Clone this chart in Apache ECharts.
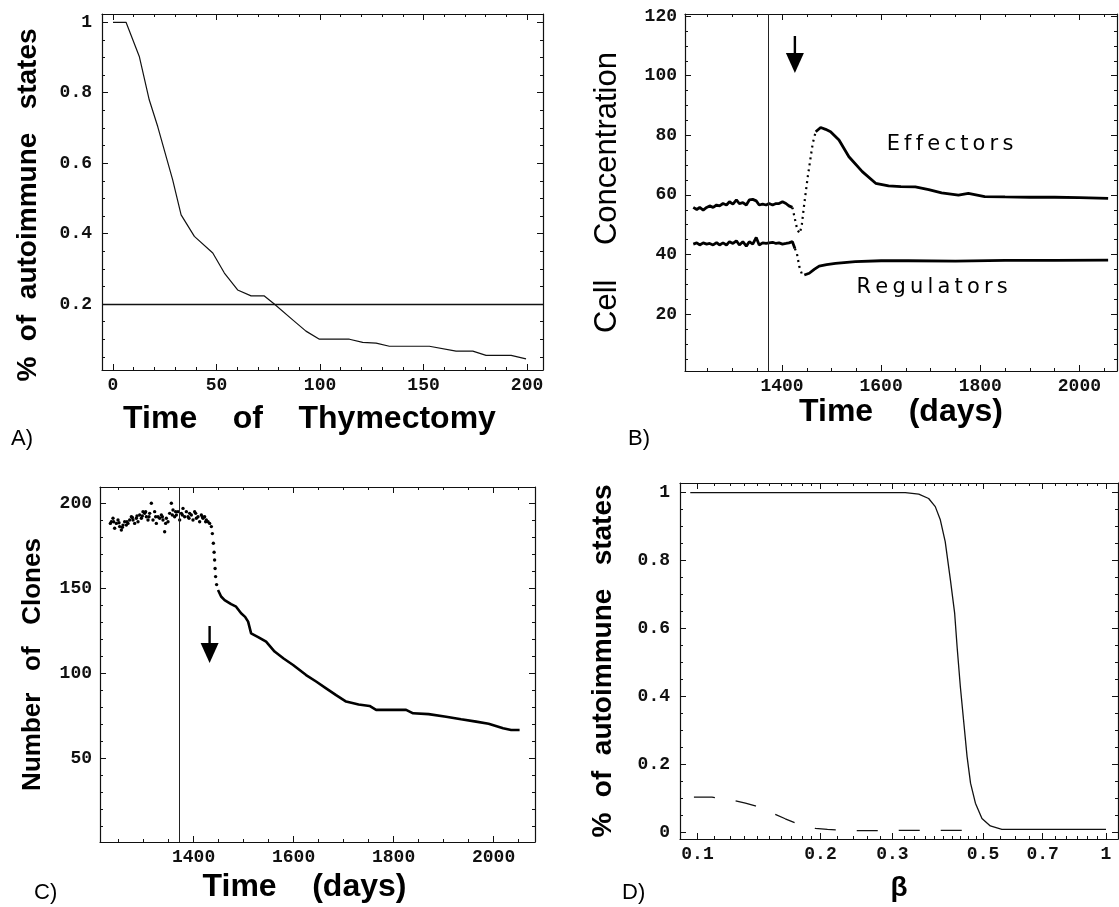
<!DOCTYPE html>
<html><head><meta charset="utf-8">
<script src="https://cdn.jsdelivr.net/npm/echarts@6/dist/echarts.min.js"></script>
<style>html,body{margin:0;padding:0;background:#fff}#c{width:1119px;height:907px}</style>
</head><body><div id="c"></div>
<script>
// ---------- Panel A : % of autoimmune states vs time of thymectomy ----------
const A_time = [0, 6.3, 12.7, 17.5, 21.6, 25.6, 28.8, 32.9, 39.3, 48.2, 53.8, 60.2, 66.7, 73.1, 77.9, 86.8, 93.2, 99.7, 114.2, 120.6, 127.1, 133.5, 152.8, 165.7, 173.8, 180.2, 192.3, 199.5];
const A_frac = [1, 1, 0.903, 0.78, 0.704, 0.62, 0.553, 0.453, 0.392, 0.345, 0.288, 0.24, 0.223, 0.223, 0.2, 0.155, 0.123, 0.1, 0.1, 0.091, 0.089, 0.08, 0.08, 0.066, 0.066, 0.054, 0.054, 0.044];
const A_threshold = 0.2;
const A_xTicks = [0, 50, 100, 150, 200];
const A_yTicks = [0.2, 0.4, 0.6, 0.8, 1];

// ---------- Panel B : cell concentration ----------
const B_effTime = [1221,1228,1234,1241,1248,1254,1261,1268,1274,1281,1288,1294,1301,1308,1314,1321,1328,1334,1341,1348,1354,1361,1368,1374,1381,1388,1394,1401,1408,1414,1421,1425,1431,1436,1440,1445,1452,1462,1468,1478,1488,1498,1515,1535,1562,1589,1615,1640,1669,1696,1722,1756,1776,1809,1850,1900,1950,2000,2058];
const B_effectors = [55.8,55.1,55.8,54.9,55.8,56.3,55.8,56.6,56.3,57.1,56.6,57.7,56.9,58.3,57.1,57.4,56.6,58.3,58.5,58.0,56.6,56.9,56.6,57.1,56.6,57.1,57.1,57.7,57.1,56.3,55.8,52.7,48.2,47.1,50.0,57.1,66.1,77.3,81.2,82.6,82.0,81.2,78.4,72.8,67.8,63.9,63.0,62.8,62.7,61.8,60.7,59.9,60.5,59.4,59.3,59.2,59.2,59.1,58.8];
const B_regTime = [1221,1228,1234,1241,1248,1254,1261,1268,1274,1281,1288,1294,1301,1308,1314,1321,1328,1334,1341,1348,1354,1361,1368,1374,1381,1388,1394,1401,1408,1414,1421,1426,1430,1435,1440,1445,1455,1465,1475,1490,1508,1548,1600,1655,1750,1850,1950,2058];
const B_regulators = [43.5,43.9,43.2,43.9,43.5,43.7,43.2,44.0,43.2,43.9,43.2,44.3,43.7,44.6,43.2,44.3,42.8,44.3,43.5,45.7,43.2,43.9,43.7,43.9,44.1,43.7,43.9,43.5,43.7,43.9,44.3,42.0,40.4,35.9,33.5,33.1,33.7,35.0,36.1,36.6,37.0,37.6,37.9,37.9,37.8,38.0,38.0,38.1];
const B_xTicks = [1400, 1600, 1800, 2000];
const B_yTicks = [20, 40, 60, 80, 100, 120];
const thymectomyDay = 1372;

// ---------- Panel C : number of clones ----------
const C_dotTime = [1233.5,1235.5,1238.8,1240.1,1242.1,1245.5,1248.8,1250.8,1252.1,1255.5,1257.5,1258.8,1262.1,1265.5,1266.8,1268.8,1272.1,1275.5,1277.5,1278.8,1282.1,1285.5,1286.8,1288.8,1292.1,1295.5,1297.5,1298.8,1302.1,1304.1,1305.5,1308.8,1310.8,1312.1,1315.5,1318.8,1322.1,1324.1,1325.5,1328.8,1332.1,1335.5,1337.5,1338.8,1342.1,1344.1,1345.5,1348.8,1352.1,1355.5,1357.5,1358.8,1362.1,1364.1,1365.5,1368.8,1372.1,1375.5,1377.5,1378.8,1382.1,1385.5,1388.8,1390.8,1392.1,1395.5,1398.8,1402.1,1404.1,1405.5,1408.8,1412.1,1415.5,1417.5,1418.8,1422.1,1424.1,1425.5,1428.8,1432.1,1435.5,1437.5,1439.5,1441,1442,1443,1444,1446];
const C_dotClones = [188.0,189.0,191.0,189.0,185.1,188.0,190.0,188.4,186.1,184.1,185.7,187.0,189.0,187.0,189.0,188.0,190.0,191.9,191.5,190.0,188.0,191.0,192.3,189.0,192.9,191.0,192.3,194.9,193.9,194.9,191.9,190.0,191.9,193.9,199.8,190.0,194.9,191.9,188.0,191.9,191.0,192.9,191.9,190.0,183.1,188.0,191.0,189.0,193.9,199.8,192.9,195.9,191.9,194.9,192.9,194.9,190.0,193.9,192.9,196.8,191.9,194.9,191.9,191.0,193.9,192.9,190.0,194.9,193.9,191.0,191.9,189.0,192.9,191.9,191.0,191.9,189.0,190.0,189.0,188.0,186.1,182.0,176.3,171.0,166.5,161.5,156.7,152.0];
const C_lineTime = [1448.8,1455,1462,1475,1485,1495,1503,1509,1515,1530,1545,1562,1580,1599,1625,1645,1665,1685,1705,1730,1752,1765,1790,1825,1839,1870,1905,1935,1965,1990,2019,2035,2052];
const C_lineClones = [148.8,145.0,142.9,140.5,139.0,135.1,133.0,130.2,123.3,121.0,118.4,112.6,108.5,104.7,98.8,95.0,91.0,87.0,83.2,81.5,80.6,78.3,78.3,78.3,76.3,75.8,74.3,72.8,71.4,70.2,67.5,66.5,66.5];
const C_xTicks = [1400, 1600, 1800, 2000];
const C_yTicks = [50, 100, 150, 200];

// ---------- Panel D : % of autoimmune states vs beta ----------
const D_betaSolid = [0.096,0.15,0.2,0.25,0.3,0.3226,0.348,0.368,0.382,0.393,0.404,0.416,0.426,0.432,0.44,0.448,0.457,0.466,0.479,0.497,0.521,0.556,0.7,1.0];
const D_fracSolid = [1,1,1,1,1,1,0.996,0.983,0.959,0.92,0.856,0.743,0.646,0.546,0.428,0.33,0.222,0.144,0.085,0.04,0.018,0.008,0.008,0.008];
const D_betaDashed = [0.098,0.1085,0.1237,0.131,0.1385,0.155,0.164,0.1735,0.1943,0.208,0.2215,0.25,0.283,0.322,0.365,0.414,0.47];
const D_fracDashed = [0.103,0.103,0.092,0.085,0.077,0.052,0.039,0.027,0.011,0.008,0.006,0.004,0.004,0.005,0.005,0.005,0.005];
const D_xTicks = [0.1, 0.2, 0.3, 0.5, 0.7, 1];
const D_yTicks = [0, 0.2, 0.4, 0.6, 0.8, 1];

// ---------- helpers ----------
function range(a, b, s) { const r = []; for (let v = a; v <= b + s / 1000; v += s) r.push(+v.toFixed(4)); return r; }
function zip(xs, ys) { return xs.map((x, i) => [x, ys[i]]); }
function part(xs, ys, lo, hi) { return zip(xs, ys).filter(p => p[0] >= lo && p[0] <= hi); }
const fmtNum = v => String(+(+v).toFixed(3));
const INK = '#111';
const tickFont = { fontFamily: 'Liberation Mono', fontWeight: 'bold', fontSize: 18, color: INK };

function axesFor(dim, gridIndex, o) {
  const isX = dim === 'x';
  const pos = isX ? ['bottom', 'top'] : ['left', 'right'];
  const base = { gridIndex, type: o.type || 'value', min: o.min, max: o.max, splitLine: { show: false }, silent: true };
  if (o.type === 'log') base.logBase = 10;
  const line = { show: true, onZero: false, lineStyle: { color: INK, width: 1.2 } };
  const tk = (len, vals) => ({ show: true, inside: true, length: len, customValues: vals, lineStyle: { color: INK, width: 1 } });
  return [
    Object.assign({}, base, {
      position: pos[0], axisLine: line, axisTick: tk(6, o.major),
      axisLabel: Object.assign({ show: true, customValues: o.labels || o.major, formatter: fmtNum, margin: o.margin }, tickFont),
      name: o.name, nameLocation: 'middle', nameGap: o.nameGap, nameRotate: isX ? 0 : 90, nameTextStyle: o.nameStyle
    }),
    Object.assign({}, base, { position: pos[0], axisLine: { show: false, onZero: false }, axisTick: tk(3, o.minor), axisLabel: { show: false } }),
    Object.assign({}, base, { position: pos[1], axisLine: line, axisTick: tk(6, o.major), axisLabel: { show: false } }),
    Object.assign({}, base, { position: pos[1], axisLine: { show: false, onZero: false }, axisTick: tk(3, o.minor), axisLabel: { show: false } })
  ];
}

const boldTitle = (size, pad) => ({ fontFamily: 'Liberation Sans', fontWeight: 'bold', fontSize: size, color: '#000', padding: pad || 0 });

const grids = [
  { left: 102, top: 14, width: 441, height: 356 },
  { left: 685, top: 14, width: 432, height: 357 },
  { left: 100, top: 487, width: 435, height: 355 },
  { left: 680, top: 483, width: 438, height: 356 }
];

const xAxes = [].concat(
  axesFor('x', 0, { min: -5.31, max: 207.7, major: A_xTicks, minor: range(0, 200, 10), margin: 6,
    name: 'Time    of    Thymectomy', nameGap: 33, nameStyle: boldTitle(32, [0, 26, 0, 0]) }),
  axesFor('x', 1, { min: 1204.3, max: 2075.9, major: B_xTicks, minor: range(1250, 2050, 50), margin: 6,
    name: 'Time    (days)', nameGap: 25, nameStyle: boldTitle(32) }),
  axesFor('x', 2, { min: 1212.8, max: 2082.8, major: C_xTicks, minor: range(1250, 2050, 50), margin: 6,
    name: 'Time    (days)', nameGap: 29, nameStyle: boldTitle(32, [0, 26, 0, 0]) }),
  axesFor('x', 3, { type: 'log', min: 0.0906, max: 1.07, major: D_xTicks,
    minor: [].concat(range(0.11, 0.19, 0.01), range(0.22, 0.48, 0.02), range(0.55, 0.95, 0.05)), margin: 6,
    name: 'β', nameGap: 35, nameStyle: boldTitle(28) })
);
const yAxes = [].concat(
  axesFor('y', 0, { min: 0.0126, max: 1.0236, major: A_yTicks, minor: range(0.05, 1, 0.05), margin: 10,
    name: '%  of  autoimmune   states', nameGap: 60, nameStyle: boldTitle(28, [0, 26, 0, 0]) }),
  axesFor('y', 1, { min: 0.9, max: 120.7, major: B_yTicks, minor: range(5, 120, 5), margin: 8,
    name: 'Cell    Concentration', nameGap: 62, nameStyle: { fontFamily: 'Liberation Sans', fontSize: 31, color: '#000' } }),
  axesFor('y', 2, { min: 0.6, max: 209.4, major: C_yTicks, minor: range(10, 200, 10), margin: 8,
    name: 'Number   of   Clones', nameGap: 54, nameStyle: boldTitle(26) }),
  axesFor('y', 3, { min: -0.0206, max: 1.0286, major: D_yTicks, minor: range(0, 1, 0.05), margin: 10,
    name: '%  of  autoimmune   states', nameGap: 63, nameStyle: boldTitle(28) })
);

const noSym = { symbol: 'none', silent: true };
const vline = (x) => ({ silent: true, symbol: ['none', 'none'], label: { show: false }, lineStyle: { color: '#222', width: 1, type: 'solid' }, data: [{ xAxis: x }] });

const series = [
  // A
  Object.assign({ type: 'line', xAxisIndex: 0, yAxisIndex: 0, data: zip(A_time, A_frac), lineStyle: { color: INK, width: 1.2 },
    markLine: { silent: true, symbol: ['none', 'none'], label: { show: false }, lineStyle: { color: INK, width: 1.4, type: 'solid' }, data: [{ yAxis: A_threshold }] } }, noSym),
  // B effectors
  Object.assign({ type: 'line', xAxisIndex: 4, yAxisIndex: 4, data: part(B_effTime, B_effectors, 0, 1421), lineStyle: { color: '#000', width: 2.8 },
    markLine: vline(thymectomyDay) }, noSym),
  Object.assign({ type: 'line', xAxisIndex: 4, yAxisIndex: 4, data: part(B_effTime, B_effectors, 1421, 1468), lineStyle: { color: '#000', width: 2.2, type: [2, 4] } }, noSym),
  Object.assign({ type: 'line', xAxisIndex: 4, yAxisIndex: 4, data: part(B_effTime, B_effectors, 1468, 9999), lineStyle: { color: '#000', width: 2.8 } }, noSym),
  // B regulators
  Object.assign({ type: 'line', xAxisIndex: 4, yAxisIndex: 4, data: part(B_regTime, B_regulators, 0, 1426), lineStyle: { color: '#000', width: 2.8 } }, noSym),
  Object.assign({ type: 'line', xAxisIndex: 4, yAxisIndex: 4, data: part(B_regTime, B_regulators, 1426, 1445), lineStyle: { color: '#000', width: 2.2, type: [2, 4] } }, noSym),
  Object.assign({ type: 'line', xAxisIndex: 4, yAxisIndex: 4, data: part(B_regTime, B_regulators, 1445, 9999), lineStyle: { color: '#000', width: 2.8 } }, noSym),
  // C
  { type: 'scatter', xAxisIndex: 8, yAxisIndex: 8, data: zip(C_dotTime, C_dotClones), symbol: 'circle', symbolSize: 3.4, itemStyle: { color: '#000', opacity: 1 }, silent: true,
    markLine: vline(thymectomyDay) },
  Object.assign({ type: 'line', xAxisIndex: 8, yAxisIndex: 8, data: zip(C_lineTime, C_lineClones), lineStyle: { color: '#000', width: 2.6 } }, noSym),
  // D
  Object.assign({ type: 'line', xAxisIndex: 12, yAxisIndex: 12, data: zip(D_betaSolid, D_fracSolid), lineStyle: { color: INK, width: 1.3 } }, noSym),
  Object.assign({ type: 'line', xAxisIndex: 12, yAxisIndex: 12, data: zip(D_betaDashed, D_fracDashed), lineStyle: { color: INK, width: 1.3, type: [21, 21] } }, noSym)
];

const chart = echarts.init(document.getElementById('c'), null, { renderer: 'canvas' });
chart.setOption({ animation: false, backgroundColor: '#fff', grid: grids, xAxis: xAxes, yAxis: yAxes, series });

// annotations anchored to data coordinates
const toPx = (g, x, y) => chart.convertToPixel({ xAxisIndex: g * 4, yAxisIndex: g * 4 }, [x, y]);
function arrow(tip) {
  const [x, y] = tip, head = 20, w = 18, shaft = 17;
  return { type: 'group', silent: true, children: [
    { type: 'line', shape: { x1: x, y1: y - head - shaft, x2: x, y2: y - head + 2 }, style: { stroke: '#000', lineWidth: 2.4 } },
    { type: 'polygon', shape: { points: [[x - w / 2, y - head], [x + w / 2, y - head], [x, y]] }, style: { fill: '#000' } }
  ] };
}
const spaced = s => s.split('').join('\u2009');
const annFont = { fontFamily: 'DejaVu Sans', fontSize: 21, fill: '#000' };
const eff = toPx(1, 1739, 77), reg = toPx(1, 1703, 29);
const panelLab = (t, x, y) => ({ type: 'text', x, y, silent: true, style: { text: t, fontFamily: 'Liberation Sans', fontSize: 22, fill: '#000', textVerticalAlign: 'top' } });
chart.setOption({ graphic: [
  arrow(toPx(1, 1426, 100.9)),
  arrow(toPx(2, 1432, 105.9)),
  { type: 'text', x: eff[0], y: eff[1], silent: true, style: Object.assign({ text: spaced('Effectors'), textAlign: 'center', textVerticalAlign: 'middle' }, annFont) },
  { type: 'text', x: reg[0], y: reg[1], silent: true, style: Object.assign({ text: spaced('Regulators'), textAlign: 'center', textVerticalAlign: 'middle' }, annFont) },
  panelLab('A)', 11, 428), panelLab('B)', 628, 428), panelLab('C)', 34, 882), panelLab('D)', 622, 882)
] });
</script></body></html>
